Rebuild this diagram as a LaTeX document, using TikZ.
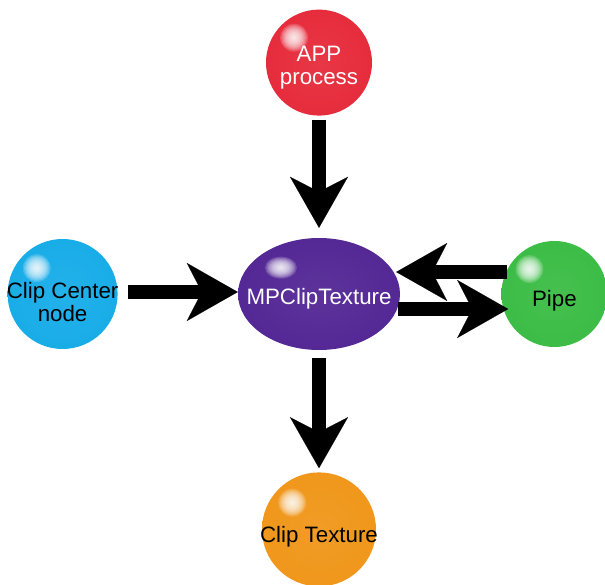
\documentclass[tikz,border=0pt]{standalone}
\usepackage{fontspec}
\setmainfont{Liberation Sans}
\usetikzlibrary{positioning, shapes.geometric, arrows.meta, calc}
\definecolor{apred}{RGB}{230,42,58}
\definecolor{mppurple}{RGB}{82,38,148}
\definecolor{ccblue}{RGB}{22,172,232}
\definecolor{ppgreen}{RGB}{58,188,68}
\definecolor{ctorange}{RGB}{240,150,25}
% body of a ball, darker rim
\pgfdeclareradialshading[sphc]{glossy}{\pgfpointorigin}{%
  color(0bp)=(sphc!94!white); color(30bp)=(sphc); color(44bp)=(sphc);
  color(48bp)=(sphc!86!black); color(50bp)=(sphc!74!black)}
\tikzset{sphcol/.code={\colorlet{sphc}{#1}}, spot size/.code 2 args={\def\spx{#1}\def\spy{#2}}}

\begin{document}
\begin{tikzpicture}[x=1pt, y=-1pt,
          sph/.style={shade, shading=glossy, sphcol=#1, spot size={14}{14}, text depth=0pt, font=\fontsize{22.3}{23}\selectfont, align=center,
            path picture={
              \coordinate (sp) at ($(path picture bounding box.center)!0.47!(path picture bounding box.north west)$);
              \foreach \k in {1,...,12}
                \fill[white, opacity=0.16] (sp) ellipse [x radius=\k/12*\spx pt, y radius=\k/12*\spy pt];}},
          ball/.style={sph=#1, circle, inner sep=-14pt, minimum size=110pt},
          fat/.style={line width=14pt, -{Stealth[length=51pt, width=58pt, inset=15pt, line width=0.1pt]}}]
        \path[use as bounding box, fill=white] (0,0) rectangle (605,585);
        \node[sph=mppurple, spot size={16}{11}, ellipse, inner sep=-26pt, minimum width=162pt, minimum height=112pt, text=white, text height=22pt] (mp) at (319,294) {MPClipTexture};
        \node[ball=apred, text=white, minimum size=106pt, text height=44pt, above=122pt of mp] (app) {APP\\process};
        \node[ball=ccblue, text height=56pt, left=120pt of mp] (cc) {Clip Center\\node};
        \node[ball=ppgreen, minimum size=106pt, text height=26pt, right=101pt of mp] (pipe) {Pipe};
        \node[ball=ctorange, minimum size=114pt, text height=26pt, below=122pt of mp] (ct) {Clip Texture};
        \draw[fat, shorten <=4pt, shorten >=10pt] (app) -- (mp);
        \draw[fat, shorten <=10pt] ([yshift=2pt]cc.east) -- ([yshift=2pt]mp.west);
        \draw[fat, shorten <=-6pt, shorten >=-4pt] ([yshift=22pt]pipe.west) -- ([yshift=22pt]mp.east);
        \draw[fat, shorten <=-2pt, shorten >=-7pt] ([yshift=-15pt]mp.east) -- ([yshift=-15pt]pipe.west);
        \draw[fat, shorten <=8pt, shorten >=4pt] (mp) -- (ct);
      \end{tikzpicture}
\end{document}
